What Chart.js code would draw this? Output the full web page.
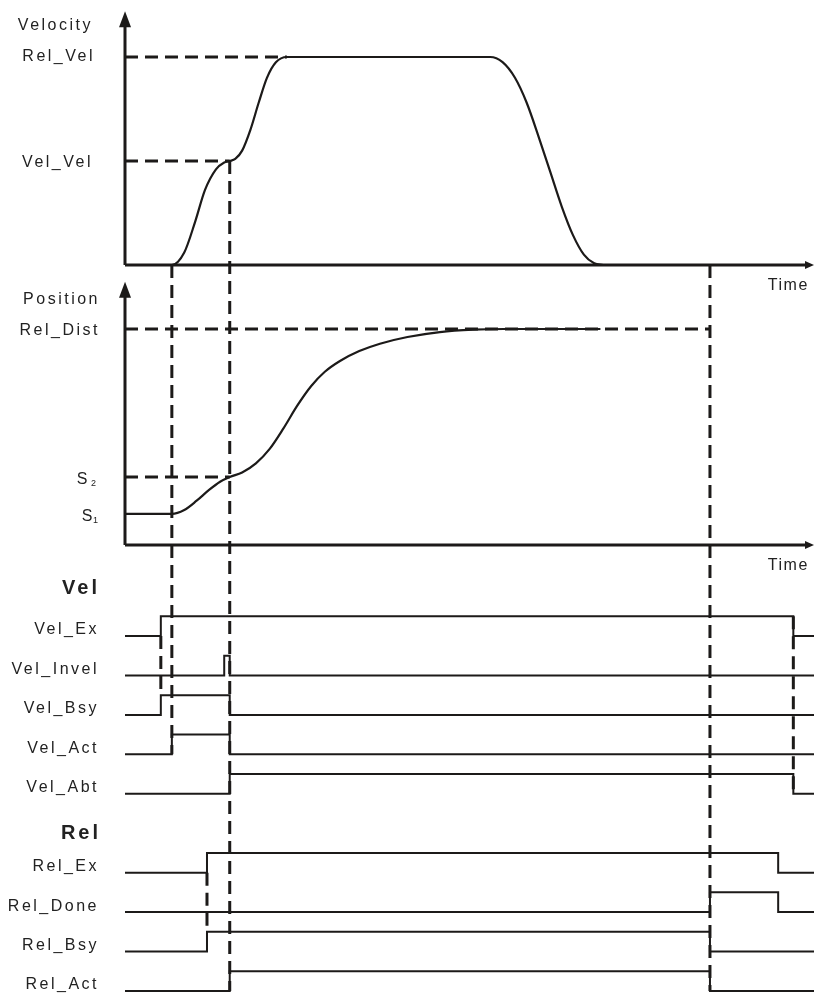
<!DOCTYPE html>
<html>
<head>
<meta charset="utf-8">
<script src="https://cdn.jsdelivr.net/npm/chart.js@4/dist/chart.umd.min.js"></script>
<style>
  html, body { margin: 0; padding: 0; background: #fff; }
  canvas { display: block; }
</style>
</head>
<body>
<canvas id="timing" width="814" height="994"></canvas>
<script>
// time runs 0..100 across the diagram
const velTime  = [0, 6.8, 8.6, 10.2, 11.6, 13.2, 14.4, 15.2, 16.0, 17.0, 18.2, 19.4, 20.6, 21.9, 23.5, 53.0, 54.8, 56.6, 58.3, 60.0, 61.7, 63.4, 65.0, 66.6, 68.1, 69.4];
const velValue = [0, 0, 6, 21, 36, 46, 49.3, 50, 51, 55, 65, 78, 90, 97.5, 100, 100, 97.5, 90, 78, 62, 45, 28, 14.5, 5, 0.8, 0];

const posTime  = [0, 6.8, 8.6, 10.4, 12.2, 13.8, 15.2, 17.0, 19.0, 21.0, 23.0, 25.0, 27.0, 29.0, 31.2, 34.0, 37.0, 41.0, 45.7, 50.5, 55.0, 69.0];
const posValue = [14.4, 14.4, 16.2, 20.5, 25.5, 29.3, 31.5, 33.6, 37.8, 44.5, 54, 64.5, 73.5, 80.2, 85.2, 89.8, 93.2, 96.3, 98.6, 99.7, 100, 100];

const relVel = 100, velVel = 50;
const relDist = 100, s1 = 14.4, s2 = 31.5;

const signalNames = ['Vel_Ex', 'Vel_Invel', 'Vel_Bsy', 'Vel_Act', 'Vel_Abt', 'Rel_Ex', 'Rel_Done', 'Rel_Bsy', 'Rel_Act'];
const signalRows  = [0, 1, 2, 3, 4, 6, 7, 8, 9];
// times where each signal toggles (all start low)
const signalEdges = [
  [5.2, 97],
  [14.4, 15.2],
  [5.2, 15.2],
  [6.8, 15.2],
  [15.2, 97],
  [11.9, 94.8],
  [84.9, 94.8],
  [11.9, 84.9],
  [15.2, 84.9]
];

const ink = '#1c1a19';
const font = '"Liberation Sans", Arial, sans-serif';

function stepData(edges, row) {
  let state = 0;
  const pts = [{x: 0, y: row}];
  edges.forEach(t => {
    state = 1 - state;
    pts.push({x: t, y: row - 0.5 * state});
  });
  pts.push({x: 100, y: row - 0.5 * state});
  return pts;
}

const datasets = [
  {
    data: velTime.map((t, i) => ({x: t, y: velValue[i]})),
    yAxisID: 'yV', borderColor: ink, borderWidth: 2.2,
    cubicInterpolationMode: 'monotone', pointRadius: 0, clip: false
  },
  {
    data: posTime.map((t, i) => ({x: t, y: posValue[i]})),
    yAxisID: 'yP', borderColor: ink, borderWidth: 2.2,
    cubicInterpolationMode: 'monotone', pointRadius: 0, clip: false
  }
];
signalNames.forEach((name, i) => {
  datasets.push({
    label: name,
    data: stepData(signalEdges[i], signalRows[i]),
    yAxisID: 'ySig', borderColor: ink, borderWidth: 2,
    stepped: true, pointRadius: 0, clip: false
  });
});

const hGuides = [
  {axis: 'yV', value: relVel, to: 23.5},
  {axis: 'yV', value: velVel, to: 15.2},
  {axis: 'yP', value: relDist, to: 84.9},
  {axis: 'yP', value: s2, to: 15.2}
];
const vGuides = [
  {t: 5.2,  from: ['ySig', 0],    to: ['ySig', 1.4]},
  {t: 6.8,  from: ['yV', 0],      to: ['ySig', 3]},
  {t: 11.9, from: ['ySig', 6],    to: ['ySig', 7.5]},
  {t: 15.2, from: ['yV', velVel], to: ['ySig', 9]},
  {t: 84.9, from: ['yV', 0],      to: ['ySig', 9]},
  {t: 97,   from: ['ySig', -0.5], to: ['ySig', 4]}
];

const diagram = {
  id: 'diagram',
  afterDatasetsDraw(chart) {
    const ctx = chart.ctx;
    const sx = chart.scales.x;
    const py = (axis, v) => chart.scales[axis].getPixelForValue(v);

    ctx.save();
    ctx.strokeStyle = ink;
    ctx.fillStyle = ink;

    // axes with arrows
    ['yV', 'yP'].forEach(axis => {
      const x0 = sx.getPixelForValue(0);
      const y0 = py(axis, 0);
      const top = py(axis, 121);
      const xEnd = sx.getPixelForValue(100);
      ctx.lineWidth = 3;
      ctx.setLineDash([]);
      ctx.beginPath();
      ctx.moveTo(x0, y0);
      ctx.lineTo(x0, top + 12);
      ctx.moveTo(x0, y0);
      ctx.lineTo(xEnd - 6, y0);
      ctx.stroke();
      ctx.beginPath();
      ctx.moveTo(x0, top - 2);
      ctx.lineTo(x0 - 6, top + 14);
      ctx.lineTo(x0 + 6, top + 14);
      ctx.closePath();
      ctx.fill();
      ctx.beginPath();
      ctx.moveTo(xEnd, y0);
      ctx.lineTo(xEnd - 9, y0 - 4);
      ctx.lineTo(xEnd - 9, y0 + 4);
      ctx.closePath();
      ctx.fill();
    });

    // dashed guides
    ctx.lineWidth = 3;
    ctx.setLineDash([13, 7]);
    hGuides.forEach(g => {
      const y = py(g.axis, g.value);
      ctx.beginPath();
      ctx.moveTo(sx.getPixelForValue(0), y);
      ctx.lineTo(sx.getPixelForValue(g.to), y);
      ctx.stroke();
    });
    vGuides.forEach(g => {
      const x = sx.getPixelForValue(g.t);
      ctx.beginPath();
      ctx.moveTo(x, py(g.from[0], g.from[1]));
      ctx.lineTo(x, py(g.to[0], g.to[1]));
      ctx.stroke();
    });
    ctx.restore();
  },
  afterDraw(chart) {
    const ctx = chart.ctx;
    const sx = chart.scales.x;
    const py = (axis, v) => chart.scales[axis].getPixelForValue(v);

    ctx.save();
    ctx.fillStyle = '#222';
    ctx.textBaseline = 'middle';
    ctx.font = '16px ' + font;
    ctx.letterSpacing = '2.5px';
    ctx.textAlign = 'right';

    const right = 99;
    ctx.fillText('Velocity', right - 6, py('yV', 115));
    ctx.fillText('Rel_Vel', right - 4, py('yV', 100));
    ctx.fillText('Vel_Vel', right - 6, py('yV', 49));
    ctx.fillText('Position', right + 1, py('yP', 113.4));
    ctx.fillText('Rel_Dist', right + 1, py('yP', 99.5));

    // S with subscripts
    ctx.fillText('S', 90, py('yP', s2 - 1.4));
    ctx.fillText('S', 95, py('yP', s1 - 1.2));
    ctx.textAlign = 'left';
    ctx.letterSpacing = '0px';
    ctx.font = '9px ' + font;
    ctx.fillText('2', 91, py('yP', s2 - 1.4) + 4);
    ctx.fillText('1', 93, py('yP', s1 - 1.2) + 4);

    ctx.font = '16px ' + font;
    ctx.letterSpacing = '1.5px';
    ctx.fillText('Time', sx.getPixelForValue(93.3), py('yV', -10.1));
    ctx.fillText('Time', sx.getPixelForValue(93.3), py('yP', -9.7));

    ctx.textAlign = 'right';
    ctx.letterSpacing = '2.5px';
    signalNames.forEach((name, i) => {
      ctx.fillText(name, right, py('ySig', signalRows[i] - 0.15));
    });

    ctx.font = 'bold 20px ' + font;
    ctx.letterSpacing = '3px';
    ctx.fillText('Vel', right + 1, py('ySig', -1.2));
    ctx.fillText('Rel', right + 2, py('ySig', 5));
    ctx.restore();
  }
};

new Chart(document.getElementById('timing'), {
  type: 'line',
  data: {datasets: datasets},
  options: {
    responsive: false,
    animation: false,
    layout: {padding: {left: 125, top: 15, right: 0, bottom: 0}},
    plugins: {legend: {display: false}, tooltip: {enabled: false}},
    elements: {line: {borderJoinStyle: 'miter', borderCapStyle: 'butt'}},
    scales: {
      x: {type: 'linear', min: 0, max: 100, display: false},
      // each axis spans the whole plot area; ranges put velocity on top,
      // position in the middle and the signal rows at the bottom
      yV: {type: 'linear', min: -350.5, max: 120.2, display: false, bounds: 'data'},
      yP: {type: 'linear', min: -207.9, max: 245.4, display: false, bounds: 'data'},
      ySig: {type: 'linear', min: -15.745, max: 9.077, reverse: true, display: false, bounds: 'data'}
    }
  },
  plugins: [diagram]
});
</script>
</body>
</html>
